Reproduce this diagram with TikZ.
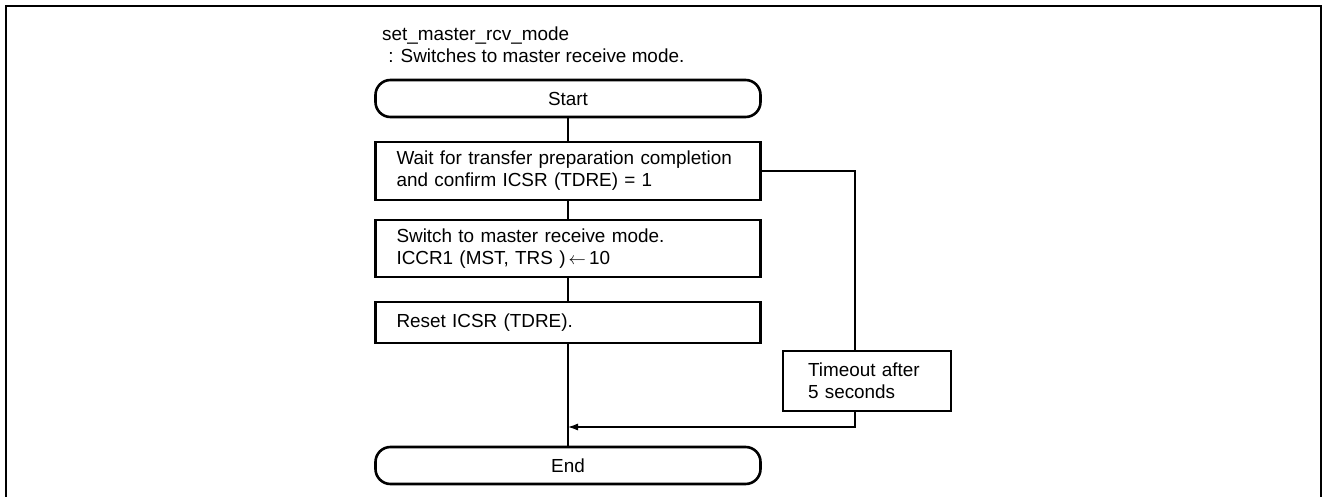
\documentclass[tikz,border=0pt]{standalone}
\usepackage{fontspec}
\setmainfont{Liberation Sans}
\usetikzlibrary{arrows.meta}
\begin{document}
\begin{tikzpicture}[x=1pt,y=-1pt,
  every node/.style={font=\fontsize{18.9}{22}\selectfont},
  proc/.style={draw,line width=2.6pt,rectangle,minimum width=385pt,text width=343pt,
    inner xsep=21pt,inner ysep=0pt,align=left},
  term/.style={draw,line width=2.6pt,rectangle,rounded corners=15pt,minimum width=385pt,
    minimum height=37pt,inner sep=0pt},
  wire/.style={line width=1.1pt},
  arr/.style={wire,-{Latex[length=10pt,width=7pt]}}]
\useasboundingbox (0,0) rectangle (1322,497);
% outer frame, open at the bottom
\draw[line width=2.2pt] (6,497) -- (6,6) -- (1321,6) -- (1321,497);
% heading
\node[anchor=base west,inner sep=0pt] (title) at (382,41) {set\_master\_rcv\_mode};
\node[anchor=base west,inner sep=0pt] (sub) at (383,63) {\ : Switches to master receive mode.};
% flow
\node[term] (start) at (568,98.5) {Start};
\node[proc,minimum height=58pt] (b1) at (568,171) {Wait for transfer preparation completion\\and confirm ICSR (TDRE) = 1};
\node[proc,minimum height=57pt] (b2) at (568,248.5) {Switch to master receive mode.\\ICCR1 (MST, TRS )\,$\leftarrow$\,10};
\node[proc,minimum height=41pt] (b3) at (568,322.5) {Reset ICSR (TDRE).};
\node[draw,line width=2.6pt,rectangle,minimum width=168pt,minimum height=60pt,text width=118pt,
  inner xsep=25pt,inner ysep=0pt,align=left] (to) at (867,381) {Timeout after\\5 seconds};
\node[term] (end) at (568,465.5) {End};
\coordinate (rx) at (855,171);
\coordinate (join) at (568,427);
\draw[wire] (start) -- (b1);
\draw[wire] (b1) -- (b2);
\draw[wire] (b2) -- (b3);
\draw[wire] (b3) -- (end);
\draw[wire] (b1.east) -- (rx) -- (rx |- to.north);
\draw[arr] (rx |- to.south) -- (rx |- join) -- (join);
\end{tikzpicture}
\end{document}
